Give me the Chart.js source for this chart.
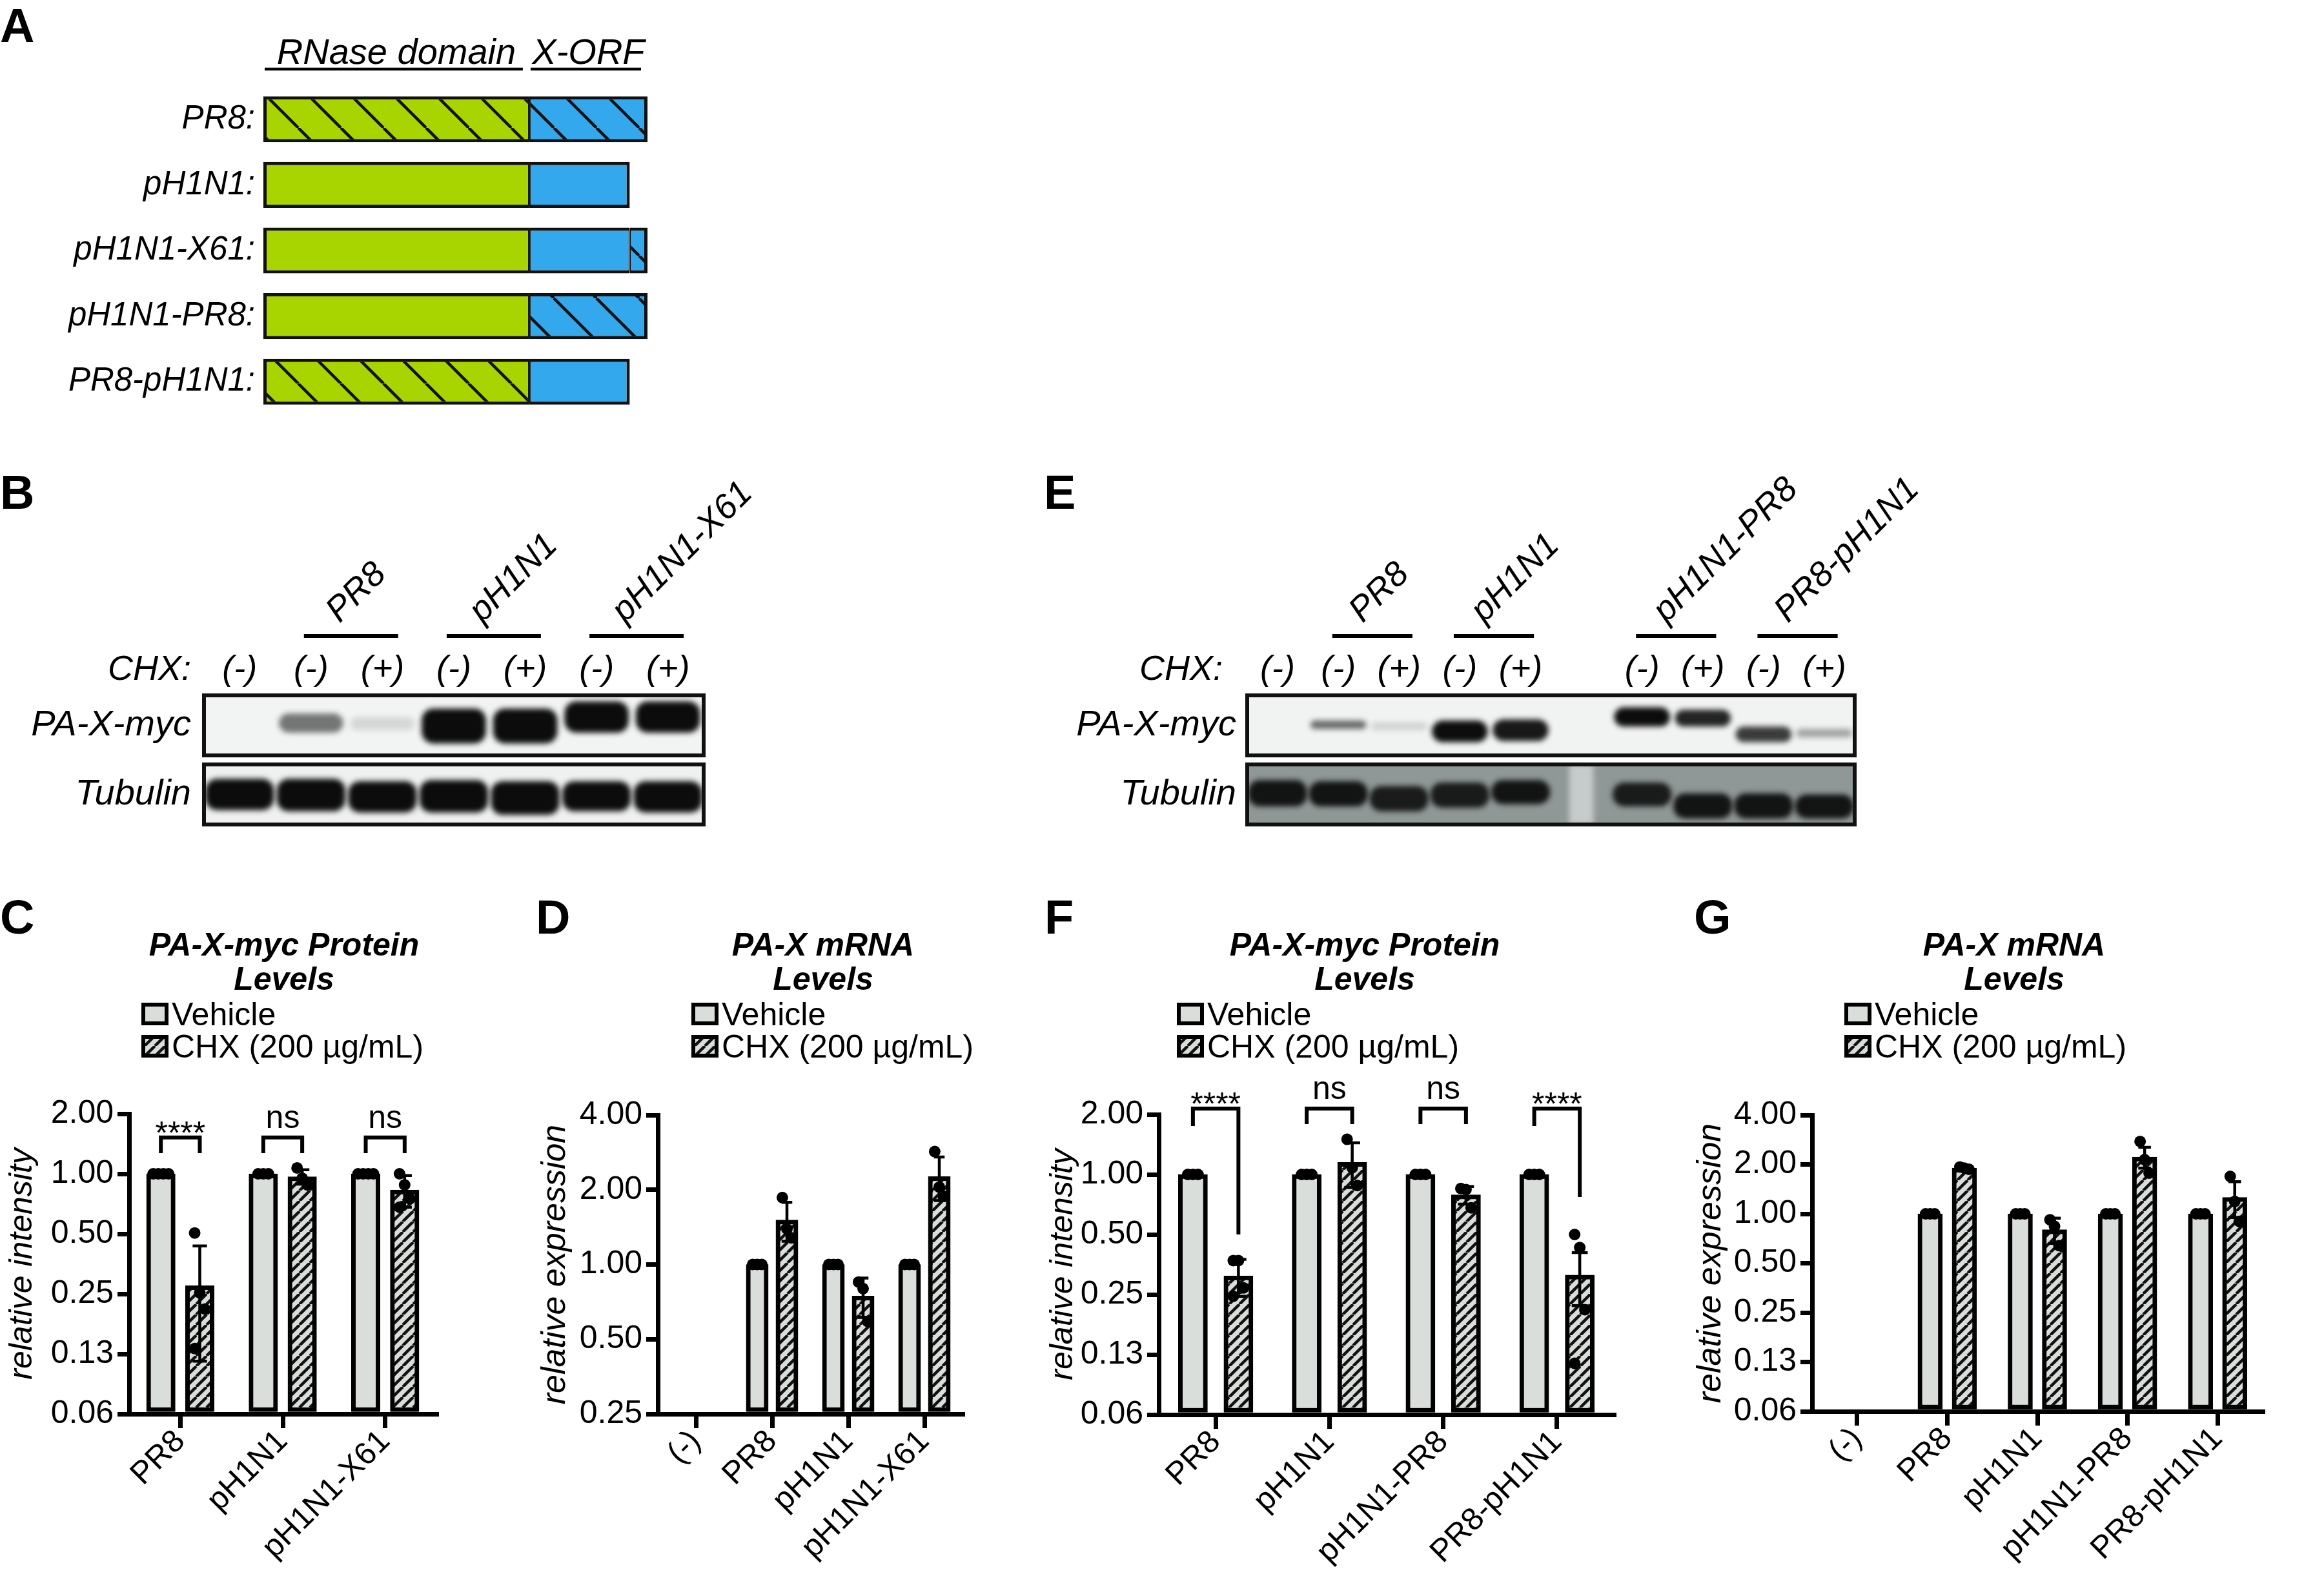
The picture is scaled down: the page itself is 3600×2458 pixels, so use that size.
<!DOCTYPE html>
<html><head><meta charset="utf-8">
<script src="https://cdn.jsdelivr.net/npm/chart.js@4.4.1/dist/chart.umd.min.js"></script>
<style>
html,body{margin:0;padding:0;background:#fff;}
body{width:3600px;height:2458px;position:relative;overflow:hidden;}
canvas{position:absolute;}
</style></head>
<body>
<canvas id="cA" width="1050" height="660" style="left:0px;top:0px"></canvas>
<canvas id="cBpax" width="1250" height="480" style="left:0px;top:700px"></canvas>
<canvas id="cBtub" width="1250" height="110" style="left:0px;top:1180px"></canvas>
<canvas id="cEpax" width="1450" height="480" style="left:1600px;top:700px"></canvas>
<canvas id="cEtub" width="1450" height="110" style="left:1600px;top:1180px"></canvas>
<canvas id="cC" width="700" height="1078" style="left:0px;top:1380px"></canvas>
<canvas id="cD" width="740" height="1078" style="left:820px;top:1380px"></canvas>
<canvas id="cF" width="940" height="1078" style="left:1600px;top:1380px"></canvas>
<canvas id="cG" width="960" height="1078" style="left:2600px;top:1380px"></canvas>
<script>
// ================= DATA =================
// Panel A : construct schematic (arbitrary length units)
const constructs   = ['PR8','pH1N1','pH1N1-X61','pH1N1-PR8','PR8-pH1N1'];
const rnaseLen     = [180,180,180,180,180];
const xorfLen      = [80,68,68,80,68];
const xorfExtLen   = [0,0,12,0,0];
const rnaseIsPR8   = [true,false,false,false,true];
const xorfIsPR8    = [true,false,false,true,false];
const xorfExtIsPR8 = [false,false,true,false,false];
const domainHeaders = ['RNase domain','X-ORF'];

// Panel B : western blot
const lanesB       = ['(-)','(-)','(+)','(-)','(+)','(-)','(+)'];
const groupNamesB  = ['PR8','pH1N1','pH1N1-X61'];
const groupFirstB  = [1,3,5];
const groupLastB   = [2,4,6];
const paxIntB      = [0,0.55,0.12,1,1,1,1];
const paxTopB      = [0,0.30,0.36,0.22,0.22,0.10,0.10];
const paxBotB      = [0,0.62,0.58,0.80,0.80,0.62,0.62];
const tubIntB      = [1,1,1,1,1,1,1];
const tubTopB      = [0.24,0.24,0.28,0.26,0.28,0.28,0.28];
const tubBotB      = [0.76,0.78,0.80,0.80,0.84,0.78,0.80];

// Panel E : western blot ('' = empty gap lane)
const lanesE       = ['(-)','(-)','(+)','(-)','(+)','','(-)','(+)','(-)','(+)'];
const groupNamesE  = ['PR8','pH1N1','pH1N1-PR8','PR8-pH1N1'];
const groupFirstE  = [1,3,6,8];
const groupLastE   = [2,4,7,9];
const paxIntE      = [0,0.6,0.14,1,0.95,0,1,0.9,0.8,0.35];
const paxTopE      = [0,0.42,0.45,0.42,0.40,0,0.20,0.24,0.52,0.56];
const paxBotE      = [0,0.56,0.58,0.78,0.76,0,0.52,0.52,0.78,0.70];
const tubIntE      = [0.95,0.95,0.9,0.9,0.95,0,0.9,0.95,0.95,0.95];
const tubTopE      = [0.26,0.28,0.36,0.30,0.26,0,0.30,0.48,0.48,0.50];
const tubBotE      = [0.70,0.70,0.78,0.72,0.66,0,0.70,0.90,0.90,0.90];

// Panel C : PA-X-myc protein levels
const catsC    = ['PR8','pH1N1','pH1N1-X61'];
const vehC     = [1,1,1];
const chxC     = [0.275,0.967,0.83];
const chxErrC  = [0.16,0.08,0.15];
const vehPtsC  = [[1,1,1,1],[1,1,1],[1,1,1,1]];
const chxPtsC  = [[0.505,0.253,0.21,0.133],[1.07,0.95,0.88],[1.0,0.88,0.75,0.68]];
const sigC     = ['****','ns','ns'];
const yTicksC  = ['0.06','0.13','0.25','0.50','1.00','2.00'];

// Panel D : PA-X mRNA levels
const catsD    = ['(-)','PR8','pH1N1','pH1N1-X61'];
const vehD     = [null,1,1,1];
const chxD     = [null,1.51,0.747,2.26];
const chxErrD  = [0,0.27,0.135,0.45];
const vehPtsD  = [[],[1,1,1],[1,1,1],[1,1,1]];
const chxPtsD  = [[],[1.86,1.39,1.28],[0.85,0.8,0.59],[2.85,2.05,1.88]];
const sigD     = [null,null,null,null];
const yTicksD  = ['0.25','0.50','1.00','2.00','4.00'];

// Panel F : PA-X-myc protein levels
const catsF    = ['PR8','pH1N1','pH1N1-PR8','PR8-pH1N1'];
const vehF     = [1,1,1,1];
const chxF     = [0.31,1.15,0.79,0.313];
const chxErrF  = [0.065,0.29,0.08,0.093];
const vehPtsF  = [[1,1,1],[1,1,1],[1,1,1],[1,1,1]];
const chxPtsF  = [[0.37,0.37,0.27,0.245],[1.5,1.08,0.88],[0.85,0.84,0.68],[0.5,0.43,0.21,0.113]];
const sigF     = ['****','ns','ns','****'];
const yTicksF  = ['0.06','0.13','0.25','0.50','1.00','2.00'];

// Panel G : PA-X mRNA levels
const catsG    = ['(-)','PR8','pH1N1','pH1N1-PR8','PR8-pH1N1'];
const vehG     = [null,1,1,1,1];
const chxG     = [null,1.9,0.8,2.22,1.26];
const chxErrG  = [0,0.03,0.14,0.32,0.31];
const vehPtsG  = [[],[1,1,1],[1,1,1],[1,1,1],[1,1,1]];
const chxPtsG  = [[],[1.93,1.9,1.87],[0.92,0.84,0.64],[2.76,2.14,1.77],[1.69,1.19,0.9]];
const sigG     = [null,null,null,null,null];
const yTicksG  = ['0.06','0.13','0.25','0.50','1.00','2.00','4.00'];

const legendLabels = ['Vehicle','CHX (200 µg/mL)'];

// ================= SETUP =================
const FONT = "'Liberation Sans', Arial, Helvetica, sans-serif";
Chart.defaults.font.family = FONT;
Chart.defaults.color = '#000';
Chart.defaults.animation = false;
Chart.defaults.plugins.legend.display = false;
Chart.defaults.plugins.tooltip.enabled = false;
const GREY = '#d9dedb';

function noPad(s){ s.paddingTop = 0; s.paddingBottom = 0; s.paddingLeft = 0; s.paddingRight = 0; }
function makePattern(ctx, bg, size, lw, dir){
  const t = document.createElement('canvas'); t.width = size; t.height = size;
  const g = t.getContext('2d');
  g.fillStyle = bg; g.fillRect(0,0,size,size);
  g.strokeStyle = '#111'; g.lineWidth = lw;
  for (let k=-1;k<=1;k++){
    g.beginPath();
    if (dir === '/') { g.moveTo(k*size, size); g.lineTo(k*size+size, 0); }
    else { g.moveTo(k*size, 0); g.lineTo(k*size+size, size); }
    g.stroke();
  }
  return ctx.createPattern(t,'repeat');
}
function txt(ctx, s, x, y, font, align, base){
  ctx.save(); ctx.font = font; ctx.fillStyle = '#000';
  ctx.textAlign = align || 'left'; ctx.textBaseline = base || 'alphabetic';
  ctx.fillText(s, x, y); ctx.restore();
}
function seg(ctx, x1, y1, x2, y2, lw){
  ctx.save(); ctx.strokeStyle = '#000'; ctx.lineWidth = lw;
  ctx.beginPath(); ctx.moveTo(x1,y1); ctx.lineTo(x2,y2); ctx.stroke(); ctx.restore();
}
let pid = 0;
function plug(hooks){ hooks.id = 'p' + (pid++); return hooks; }

// ================= PANEL A =================
(function(){
  const ctx = document.getElementById('cA').getContext('2d');
  const green = '#a8d400', blue = '#33a8ec';
  const gH = makePattern(ctx, green, 66, 4.5, '\\');
  const bH = makePattern(ctx, blue, 66, 4.5, '\\');
  const bw = (l, r) => ({top:5, bottom:5, left:l, right:r});
  new Chart(ctx, {
    type:'bar',
    data:{ labels: constructs, datasets:[
      { label:domainHeaders[0], data: rnaseLen, backgroundColor: rnaseIsPR8.map(p => p ? gH : green),
        borderColor:'#111', borderWidth: bw(5,2), borderSkipped:false },
      { label:domainHeaders[1], data: xorfLen, backgroundColor: xorfIsPR8.map(p => p ? bH : blue),
        borderColor:'#111', borderWidth: c => bw(2, xorfExtLen[c.dataIndex] > 0 ? 2 : 5), borderSkipped:false },
      { label:domainHeaders[1] + ' (PR8 end)', data: xorfExtLen.map(v => v || null), backgroundColor: xorfExtIsPR8.map(p => p ? bH : blue),
        borderColor:'#111', borderWidth: bw(2,5), borderSkipped:false }
    ]},
    options:{
      indexAxis:'y', responsive:false, events:[], devicePixelRatio:1,
      layout:{ autoPadding:false, padding:{left:0, right:47, top:134, bottom:18} },
      datasets:{ bar:{ barPercentage:0.7, categoryPercentage:1 } },
      scales:{
        x:{ stacked:true, display:false, min:0, max:260, afterFit: noPad },
        y:{ stacked:true, grid:{display:false, drawTicks:false}, border:{display:false},
            ticks:{ font:{size:51, style:'italic'}, padding:13, callback:(v,i) => constructs[i] + ':' },
            afterFit: s => { s.width = 408; noPad(s); } }
      }
    },
    plugins:[ plug({ afterDraw(chart){
      const c = chart.ctx, xs = chart.scales.x;
      txt(c, 'A', 0, 65, 'bold 74px ' + FONT);
      const total = rnaseLen[0] + xorfLen[0] + xorfExtLen[0];
      const spans = [[0, rnaseLen[0]], [rnaseLen[0], total]];
      domainHeaders.forEach((h,k) => {
        const a = xs.getPixelForValue(spans[k][0]), b = xs.getPixelForValue(spans[k][1]);
        txt(c, h, (a+b)/2, 99, 'italic 56px ' + FONT, 'center');
        seg(c, a+2, 107, b-10, 107, 4.5);
      });
    }}) ]
  });
})();

// ================= BLOTS =================
function blotRow(o){
  const cv = document.getElementById(o.id), ctx = cv.getContext('2d');
  const W = cv.width, H = cv.height;
  const datasets = [{
    data: o.ints.map((a,i) => a ? [o.tops[i], o.bots[i]] : null),
    backgroundColor: o.ints.map(a => 'rgba(12,12,12,' + a + ')'),
    borderWidth:0, borderRadius:18, borderSkipped:false,
    barPercentage:o.bandW, categoryPercentage:1, grouped:false, order:0
  }];
  if (o.stripe) datasets.push({
    data: o.lanes.map(l => l === '' ? [0,1] : null),
    backgroundColor:'rgba(200,207,205,0.95)', borderWidth:0,
    barPercentage:0.4, categoryPercentage:1, grouped:false, order:1
  });
  new Chart(ctx, {
    type:'bar',
    data:{ labels:o.lanes, datasets },
    options:{
      responsive:false, events:[], devicePixelRatio:1,
      layout:{ autoPadding:false, padding:{left:0, right:W - o.area.R, top:o.showLanes ? 0 : o.area.T, bottom:H - o.area.B} },
      scales:{
        x:{ type:'category', position:'top', display:o.showLanes,
            grid:{display:false, drawTicks:false}, border:{display:false},
            ticks:{ font:{size:54, style:'italic'}, padding:7, autoSkip:false, maxRotation:0, minRotation:0 },
            afterFit: s => { s.height = o.showLanes ? o.area.T : 0; noPad(s); } },
        y:{ type:'linear', min:0, max:1, reverse:true,
            grid:{display:false, drawTicks:false}, border:{display:false},
            afterBuildTicks: s => { s.ticks = [{value:0.5}]; },
            ticks:{ font:{size:56, style:'italic'}, padding:o.labelPad, callback:() => o.rowLabel },
            afterFit: s => { s.width = o.area.L; noPad(s); } }
      }
    },
    plugins:[ plug({
      beforeDatasetsDraw(chart){
        const a = chart.chartArea, c = chart.ctx;
        c.save(); c.fillStyle = o.bg; c.fillRect(a.left, a.top, a.right-a.left, a.bottom-a.top); c.restore();
        c.filter = 'blur(' + o.blur + 'px)';
      },
      afterDatasetsDraw(chart){
        const a = chart.chartArea, c = chart.ctx;
        c.filter = 'none';
        c.save(); c.strokeStyle = '#111'; c.lineWidth = 6;
        c.strokeRect(a.left, a.top, a.right-a.left, a.bottom-a.top); c.restore();
      },
      afterDraw(chart){
        if (!o.header) return;
        const c = chart.ctx, xs = chart.scales.x, hd = o.header;
        const lw = xs.getPixelForValue(1) - xs.getPixelForValue(0);
        txt(c, hd.letter, hd.letterX, 88, 'bold 74px ' + FONT);
        txt(c, 'CHX:', hd.chxRight, 338, 'italic 54px ' + FONT, 'right', 'middle');
        hd.names.forEach((g,k) => {
          const a = xs.getPixelForValue(hd.first[k]) - 0.1*lw;
          const b = xs.getPixelForValue(hd.last[k]) + 0.22*lw;
          seg(c, a, 285, b, 285, 6);
          c.save();
          c.translate(xs.getPixelForValue(hd.first[k]) + 0.4*lw, 266);
          c.rotate(-Math.PI/4);
          txt(c, g, 0, 0, 'italic 54px ' + FONT);
          c.restore();
        });
      }
    }) ]
  });
}

blotRow({ id:'cBpax', lanes:lanesB, ints:paxIntB, tops:paxTopB, bots:paxBotB, rowLabel:'PA-X-myc',
  area:{L:316, R:1090, T:377, B:470}, showLanes:true, bg:'#f2f3f3', blur:4, bandW:0.9, labelPad:20,
  header:{ letter:'B', letterX:0, chxRight:296, names:groupNamesB, first:groupFirstB, last:groupLastB } });
blotRow({ id:'cBtub', lanes:lanesB, ints:tubIntB, tops:tubTopB, bots:tubBotB, rowLabel:'Tubulin',
  area:{L:316, R:1090, T:4, B:97}, showLanes:false, bg:'#eff0f0', blur:4, bandW:0.96, labelPad:20 });
blotRow({ id:'cEpax', lanes:lanesE, ints:paxIntE, tops:paxTopE, bots:paxBotE, rowLabel:'PA-X-myc',
  area:{L:332, R:1273, T:377, B:470}, showLanes:true, bg:'#f1f2f2', blur:4, bandW:0.92, labelPad:17,
  header:{ letter:'E', letterX:17, chxRight:294, names:groupNamesE, first:groupFirstE, last:groupLastE } });
blotRow({ id:'cEtub', lanes:lanesE, ints:tubIntE, tops:tubTopE, bots:tubBotE, rowLabel:'Tubulin',
  area:{L:332, R:1273, T:4, B:97}, showLanes:false, bg:'#8f9896', blur:4, bandW:0.97, labelPad:17, stripe:true });

// ================= BAR PANELS =================
function barPanel(o){
  const cv = document.getElementById(o.id), ctx = cv.getContext('2d');
  const W = cv.width, H = cv.height;
  const n = o.cats.length, off = o.off;
  const barPx = (o.area.R - o.area.L) / n * o.barFrac;
  const Lg = v => (v == null ? null : Math.log2(v));
  const hatch = makePattern(ctx, GREY, 16, 4.5, '/');
  const pts = [];
  o.vehPts.forEach((arr,i) => arr.forEach((v,j) => pts.push({x: i - off + (j - (arr.length-1)/2) * o.spread, y: Lg(v)})));
  o.chxPts.forEach((arr,i) => arr.forEach((v,j) => pts.push({x: i + off + ((j % 3) - 1) * o.spread, y: Lg(v)})));
  const errSeg = [], cw = 0.07;
  o.chx.forEach((m,i) => {
    const e = o.err[i]; if (m == null || !e) return;
    const x = i + off, hi = Lg(m + e), lo = Lg(Math.max(m - e, Math.pow(2, o.yMin)));
    errSeg.push({x, y:lo}, {x, y:hi}, {x, y:null}, {x:x-cw, y:hi}, {x:x+cw, y:hi}, {x, y:null},
                {x:x-cw, y:lo}, {x:x+cw, y:lo}, {x, y:null});
  });
  const brSeg = [];
  o.sig.forEach((s,i) => {
    if (!s) return;
    const b = o.brackets[i];
    brSeg.push({x:i-off, y:Lg(b[1])}, {x:i-off, y:Lg(b[0])}, {x:i+off, y:Lg(b[0])}, {x:i+off, y:Lg(b[2])}, {x:i, y:null});
  });
  const barCommon = { type:'bar', xAxisID:'xp', borderColor:'#000', borderWidth:7, borderSkipped:false,
    base:o.yMin, grouped:false, barThickness:barPx, order:2 };
  const datasets = [
    { type:'scatter', xAxisID:'xp', data:pts, pointRadius:o.ptR, pointBackgroundColor:'#000', pointBorderWidth:0, order:0 },
    { type:'line', xAxisID:'xp', data:errSeg, borderColor:'#000', borderWidth:4.5, pointRadius:0, spanGaps:false, fill:false, order:1 },
    { type:'line', xAxisID:'xp', data:brSeg, borderColor:'#000', borderWidth:6, pointRadius:0, spanGaps:false, fill:false, clip:false, borderJoinStyle:'miter', order:1 },
    Object.assign({ label:legendLabels[0], data:o.veh.map((v,i) => ({x:i - off, y:Lg(v)})), backgroundColor:GREY }, barCommon),
    Object.assign({ label:legendLabels[1], data:o.chx.map((v,i) => ({x:i + off, y:Lg(v)})), backgroundColor:hatch }, barCommon)
  ];
  new Chart(ctx, {
    type:'bar',
    data:{ labels:o.cats, datasets },
    options:{
      responsive:false, events:[], devicePixelRatio:1,
      layout:{ autoPadding:false, padding:{left:0, right:W - o.area.R, top:o.area.T, bottom:H - o.area.B - 240} },
      scales:{
        x:{ type:'category', offset:true,
            grid:{ display:true, drawOnChartArea:false, drawTicks:true, tickLength:22, lineWidth:7, tickWidth:7, tickColor:'#000', color:'#000', offset:false },
            border:{ display:true, color:'#000', width:7 },
            ticks:{ font:{size:49}, maxRotation:45, minRotation:45, autoSkip:false, padding:-8 },
            afterFit: s => { s.height = 240; noPad(s); } },
        xp:{ type:'linear', position:'bottom', display:false, offset:false, min:-0.5, max:n-0.5, afterFit: noPad },
        y:{ type:'linear', min:o.yMin, max:o.yMax,
            grid:{ display:true, drawOnChartArea:false, drawTicks:true, tickLength:18, lineWidth:7, tickWidth:7, tickColor:'#000', color:'#000' },
            border:{ display:true, color:'#000', width:7 },
            afterBuildTicks: s => { const t = []; for (let v = o.yMin; v <= o.yMax; v++) t.push({value:v}); s.ticks = t; },
            ticks:{ font:{size:50}, padding:6, callback: v => o.yLabels[Math.round(v - o.yMin)] },
            title:{ display:true, text:o.yTitle, font:{size:o.yTitleSize, style:'italic'}, padding:{top:o.yTitlePad, bottom:0} },
            afterFit: s => { s.width = o.area.L; noPad(s); } }
      }
    },
    plugins:[ plug({ afterDraw(chart){
      const c = chart.ctx, xp = chart.scales.xp, ys = chart.scales.y;
      txt(c, o.letter, o.letterX, 66, 'bold 74px ' + FONT);
      txt(c, o.title[0], o.titleX, 100, 'italic bold 50px ' + FONT, 'center');
      txt(c, o.title[1], o.titleX, 153, 'italic bold 50px ' + FONT, 'center');
      const bars = [chart.data.datasets[3], chart.data.datasets[4]];
      bars.forEach((d,k) => {
        const y0 = 173 + k*50;
        c.save(); c.fillStyle = d.backgroundColor; c.fillRect(o.legendX, y0, 42, 35);
        c.strokeStyle = '#000'; c.lineWidth = 6; c.strokeRect(o.legendX + 3, y0 + 3, 36, 29); c.restore();
        txt(c, d.label, o.legendX + 47, y0 + 35, '50px ' + FONT);
      });
      o.sig.forEach((s,i) => {
        if (!s) return;
        const yp = ys.getPixelForValue(Lg(o.brackets[i][0]));
        const xc = xp.getPixelForValue(i);
        if (s === 'ns') txt(c, s, xc, yp - 15, '50px ' + FONT, 'center');
        else txt(c, s, xc, yp + 10, '50px ' + FONT, 'center');
      });
    }}) ]
  });
}

barPanel({ id:'cC', letter:'C', letterX:0, title:['PA-X-myc Protein','Levels'], titleX:440, legendX:219,
  cats:catsC, veh:vehC, chx:chxC, err:chxErrC, vehPts:vehPtsC, chxPts:chxPtsC, sig:sigC,
  brackets:[[1.52,1.27,1.27],[1.52,1.27,1.27],[1.52,1.27,1.27]],
  yMin:-4, yMax:1, yLabels:yTicksC, yTitle:'relative intensity', yTitleSize:50, yTitlePad:5,
  area:{L:200, R:676, T:345, B:810}, off:0.19, barFrac:0.28, spread:0.05, ptR:9 });

barPanel({ id:'cD', letter:'D', letterX:10, title:['PA-X mRNA','Levels'], titleX:455, legendX:251,
  cats:catsD, veh:vehD, chx:chxD, err:chxErrD, vehPts:vehPtsD, chxPts:chxPtsD, sig:sigD, brackets:[],
  yMin:-2, yMax:2, yLabels:yTicksD, yTitle:'relative expression', yTitleSize:52, yTitlePad:9,
  area:{L:199, R:671, T:347, B:810}, off:0.195, barFrac:0.29, spread:0.06, ptR:9 });

barPanel({ id:'cF', letter:'F', letterX:18, title:['PA-X-myc Protein','Levels'], titleX:514, legendX:223,
  cats:catsF, veh:vehF, chx:chxF, err:chxErrF, vehPts:vehPtsF, chxPts:chxPtsF, sig:sigF,
  brackets:[[2.14,1.75,0.5],[2.14,1.79,1.79],[2.14,1.79,1.79],[2.14,1.75,0.77]],
  yMin:-4, yMax:1, yLabels:yTicksF, yTitle:'relative intensity', yTitleSize:50, yTitlePad:17,
  area:{L:195, R:900, T:346, B:811}, off:0.2, barFrac:0.256, spread:0.045, ptR:9 });

barPanel({ id:'cG', letter:'G', letterX:24, title:['PA-X mRNA','Levels'], titleX:520, legendX:257,
  cats:catsG, veh:vehG, chx:chxG, err:chxErrG, vehPts:vehPtsG, chxPts:chxPtsG, sig:sigG, brackets:[],
  yMin:-4, yMax:2, yLabels:yTicksG, yTitle:'relative expression', yTitleSize:52, yTitlePad:19,
  area:{L:207, R:905, T:347, B:806}, off:0.19, barFrac:0.272, spread:0.05, ptR:9 });
</script>
</body></html>
